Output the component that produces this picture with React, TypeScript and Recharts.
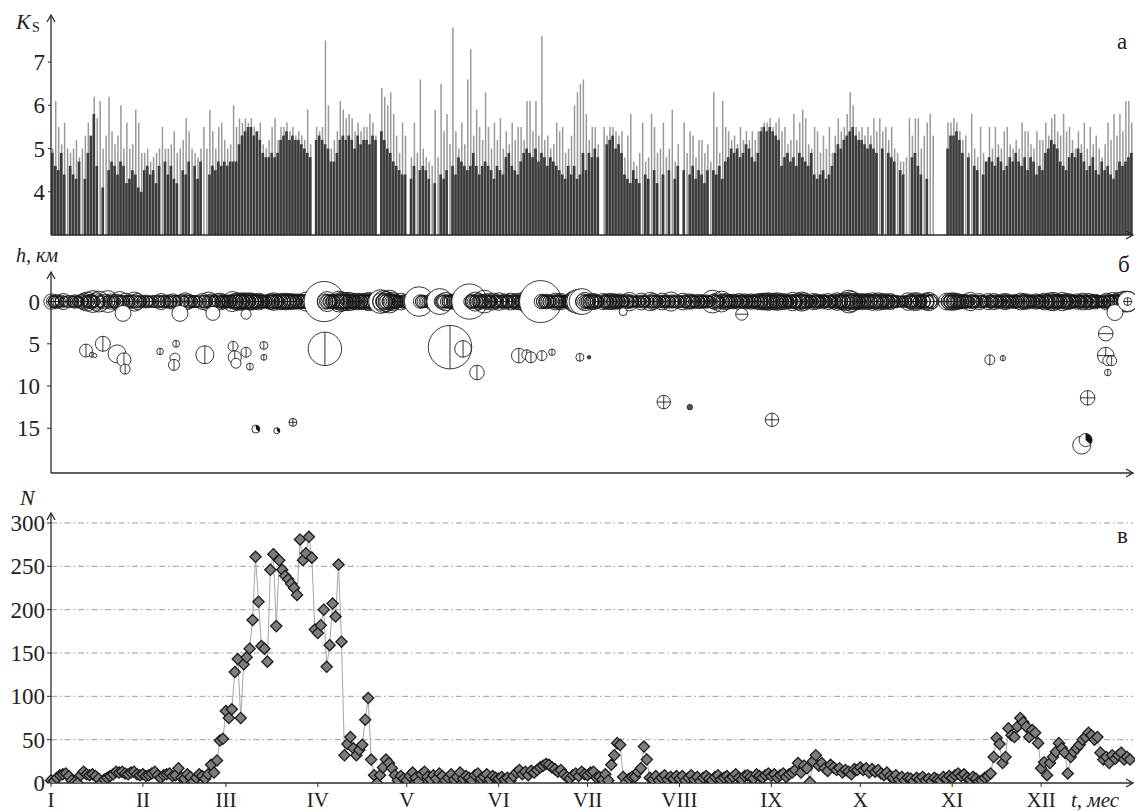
import React from 'react';
import { ComposedChart, Bar, XAxis, YAxis, Scatter, Line, ReferenceLine } from 'recharts';

const FONT = '"Liberation Serif", "Times New Roman", Times, serif';
const AXIS = '#2a2a2a';

const monthStarts = [0, 31, 59, 90, 120, 151, 181, 212, 243, 273, 304, 334];
const monthLabels = ['I', 'II', 'III', 'IV', 'V', 'VI', 'VII', 'VIII', 'IX', 'X', 'XI', 'XII'];
const ksTicks = [4, 5, 6, 7];
const depthTicks = [0, 5, 10, 15];
const countTicks = [0, 50, 100, 150, 200, 250, 300];
const countGrid = [50, 100, 150, 200, 250, 300];

// Panel а: daily K_s (dark body) — 0 = no events
const ksBase = [
  4.9, 4.6, 4.5, 4.9, 4.4, 0, 4.6, 4.4, 4.3, 4.7, 0, 4.3, 4.9, 5.3, 5.8, 4.6, 0, 4.1, 0, 4.5, 4.7, 4.6, 4.4, 4.7, 4.6, 4.2, 4.3, 4.5, 4.4, 4.1, 4.0,
  4.5, 4.6, 4.4, 4.5, 4.2, 4.6, 0, 4.7, 4.4, 4.6, 4.3, 4.2, 0, 4.5, 4.4, 4.7, 0, 4.6, 4.3, 4.7, 0, 0, 4.4, 4.6, 4.5, 4.7, 4.6, 4.7,
  4.6, 4.7, 4.7, 4.7, 5.1, 5.3, 5.4, 5.5, 5.5, 5.3, 5.4, 5.2, 4.9, 4.8, 4.8, 4.9, 4.8, 4.9, 5.2, 5.3, 5.4, 5.2, 5.3, 5.2, 5.2, 5.1, 5.0, 4.9, 4.8, 0, 5.2,
  5.3, 5.2, 5.1, 5.0, 4.7, 4.7, 4.9, 5.2, 5.3, 5.2, 5.3, 5.2, 5.0, 5.3, 5.1, 5.2, 5.2, 5.1, 5.3, 5.2, 0, 5.4, 5.2, 5.0, 4.9, 4.7, 4.6, 4.5, 4.4, 4.4,
  0, 4.3, 4.6, 0, 4.5, 4.6, 4.5, 4.3, 0, 4.2, 0, 4.4, 4.3, 4.5, 0, 4.6, 4.4, 4.8, 4.7, 4.6, 4.5, 4.6, 4.9, 4.6, 4.4, 4.6, 4.7, 4.6, 4.5, 4.3, 4.6,
  4.5, 4.4, 4.8, 4.9, 4.6, 4.5, 4.4, 4.7, 4.9, 5.0, 4.9, 4.8, 5.0, 4.7, 4.9, 4.8, 4.6, 4.8, 4.7, 4.6, 4.5, 4.4, 4.3, 4.6, 4.4, 4.6, 4.3, 4.4, 4.9, 4.5,
  4.9, 4.8, 5.0, 4.8, 0, 0, 5.1, 5.2, 5.3, 5.0, 5.1, 4.9, 4.4, 4.3, 4.2, 4.5, 4.3, 4.2, 0, 4.4, 4.3, 0, 4.5, 4.2, 0, 4.4, 0, 4.5, 0, 4.3, 4.6,
  0, 4.5, 0, 4.4, 4.6, 4.3, 4.5, 4.4, 4.2, 4.5, 0, 4.5, 4.4, 4.6, 4.3, 4.7, 4.8, 5.0, 4.9, 5.0, 4.8, 4.9, 5.1, 5.0, 4.8, 4.7, 4.9, 5.4, 5.5, 5.4, 5.5,
  5.4, 5.3, 5.2, 4.6, 4.8, 4.9, 4.7, 4.8, 4.6, 4.9, 4.8, 4.7, 4.6, 4.9, 4.4, 4.3, 4.4, 4.5, 4.3, 4.4, 4.6, 4.9, 5.1, 5.0, 5.2, 5.3, 5.4, 5.5, 5.3, 5.2,
  5.2, 5.1, 5.0, 5.1, 5.0, 4.9, 0, 5.0, 0, 4.9, 4.8, 4.7, 0, 4.5, 4.4, 0, 0, 4.8, 4.9, 4.6, 4.4, 0, 4.3, 0, 0, 0, 0, 0, 0, 5.0, 5.3,
  5.3, 5.4, 5.2, 4.9, 0, 4.8, 0, 4.6, 4.5, 0, 4.4, 4.7, 4.8, 4.7, 4.6, 4.8, 4.7, 4.5, 4.6, 4.8, 4.7, 4.9, 4.7, 4.6, 4.8, 4.5, 4.8, 4.7, 4.4, 4.6,
  4.5, 4.9, 5.0, 5.2, 5.1, 5.0, 4.7, 4.6, 4.5, 4.8, 4.9, 4.8, 5.0, 4.9, 4.7, 4.5, 4.6, 4.8, 4.5, 4.4, 4.7, 4.5, 4.6, 4.4, 4.3, 4.5, 4.7, 4.6, 4.7, 4.8, 4.9,
];

// Panel а: daily maximum K_s (light spikes)
const ksPeak = [
  5.0, 6.1, 5.5, 5.1, 5.6, 5.0, 4.9, 5.0, 5.2, 4.8, 5.0, 5.3, 5.6, 5.2, 6.2, 5.7, 6.1, 5.0, 5.3, 6.2, 5.4, 5.1, 5.3, 6.0, 5.0, 5.6, 5.0, 5.1, 5.9, 5.6, 4.9,
  4.9, 5.0, 4.7, 4.8, 4.9, 5.0, 5.5, 5.0, 5.0, 5.1, 5.4, 4.9, 5.0, 5.2, 5.7, 5.4, 5.0, 4.9, 4.8, 5.0, 5.5, 5.0, 5.9, 5.4, 5.0, 5.5, 5.6, 5.2,
  5.0, 5.1, 6.0, 5.5, 5.7, 5.6, 5.7, 5.6, 5.7, 5.5, 5.3, 5.6, 5.1, 5.0, 5.2, 5.5, 5.7, 5.2, 5.5, 5.5, 5.6, 5.4, 5.5, 5.3, 5.4, 5.3, 5.2, 5.9, 5.1, 0, 5.5,
  5.4, 5.5, 7.5, 6.0, 5.0, 5.2, 5.4, 6.1, 5.9, 5.7, 5.8, 5.7, 5.4, 5.6, 5.4, 5.5, 5.5, 5.8, 5.6, 5.3, 0, 6.4, 6.2, 6.0, 6.3, 5.8, 5.3, 4.9, 5.6, 5.3,
  0, 4.8, 5.6, 4.9, 6.6, 5.0, 4.8, 4.7, 4.6, 5.9, 4.8, 6.5, 5.4, 5.8, 5.1, 7.8, 5.4, 5.0, 5.6, 5.1, 6.6, 7.3, 5.3, 5.9, 5.5, 5.2, 6.3, 5.5, 5.0, 5.6, 5.2,
  5.7, 5.0, 5.4, 5.1, 5.6, 5.2, 5.5, 5.5, 5.2, 6.1, 6.1, 5.4, 6.1, 5.3, 7.6, 5.2, 5.3, 5.0, 5.1, 5.6, 5.4, 5.5, 4.9, 5.0, 5.3, 6.0, 6.3, 6.5, 6.6, 5.8,
  5.2, 5.5, 5.5, 5.1, 0, 5.5, 5.3, 5.5, 5.5, 5.4, 5.3, 5.4, 4.8, 5.3, 5.8, 4.7, 4.6, 4.9, 5.6, 4.7, 4.8, 5.8, 5.5, 4.9, 5.0, 5.6, 4.8, 5.0, 5.9, 4.7, 5.1,
  0, 5.6, 4.9, 5.4, 5.3, 4.8, 5.2, 5.2, 4.9, 5.1, 4.7, 6.3, 5.5, 4.9, 6.1, 5.5, 5.4, 5.2, 5.3, 5.1, 5.5, 5.2, 5.4, 5.2, 5.4, 5.2, 5.4, 5.5, 5.6, 5.6, 5.7,
  5.5, 5.6, 5.7, 5.4, 5.5, 5.1, 5.2, 5.8, 5.2, 5.6, 5.9, 5.7, 5.1, 5.0, 5.5, 5.4, 4.9, 5.3, 5.0, 5.5, 4.9, 5.3, 5.7, 5.4, 5.5, 5.8, 6.3, 6.0, 5.5, 5.4,
  5.5, 5.3, 5.5, 5.3, 5.7, 5.4, 5.7, 5.4, 5.5, 5.2, 5.5, 5.0, 4.9, 4.7, 4.7, 4.8, 5.7, 5.3, 5.7, 5.7, 5.0, 5.3, 5.6, 5.8, 5.3, 0, 0, 0, 0, 5.6, 5.6,
  5.7, 5.6, 5.4, 5.2, 5.3, 4.9, 5.8, 5.0, 4.8, 5.5, 4.9, 4.7, 5.5, 5.0, 5.5, 5.1, 5.0, 5.4, 5.5, 5.1, 5.0, 5.2, 5.0, 5.6, 5.4, 5.4, 5.1, 5.0, 5.4, 5.2,
  5.2, 5.6, 5.3, 5.7, 5.8, 5.4, 5.3, 5.8, 5.4, 5.5, 5.2, 5.0, 5.4, 5.1, 5.6, 5.0, 5.5, 5.1, 5.3, 5.0, 4.8, 5.1, 5.6, 5.2, 5.8, 5.3, 5.8, 5.4, 6.1, 6.1, 5.6,
];

// Panel б: shallow (h ≈ 0) events, K_s — first event of each day (0 = none)
const bandKs = [
  5.3, 4.6, 5.0, 4.4, 5.4, 0, 4.8, 4.6, 5.0, 4.5, 5.1, 5.5, 5.8, 5.0, 6.1, 5.6, 6.0, 4.8, 5.2, 6.1, 5.3, 4.9, 5.2, 5.9, 4.8, 5.5, 4.9, 5.0, 5.8, 5.4, 4.7,
  4.8, 4.9, 4.6, 4.7, 4.8, 4.9, 5.4, 4.9, 4.9, 5.0, 5.3, 4.8, 4.9, 5.1, 5.6, 5.3, 4.9, 4.8, 4.7, 4.9, 5.4, 4.9, 5.8, 5.3, 4.9, 5.4, 5.5, 5.1,
  4.9, 5.0, 5.9, 5.4, 5.6, 5.5, 5.6, 5.5, 5.6, 5.4, 5.2, 5.5, 5.0, 4.9, 5.1, 5.4, 5.6, 5.1, 5.4, 5.4, 5.5, 5.3, 5.4, 5.2, 5.3, 5.2, 5.1, 5.8, 5.0, 0, 5.4,
  5.3, 5.4, 7.5, 5.9, 4.9, 5.1, 5.3, 6.0, 5.8, 5.6, 5.7, 5.6, 5.3, 5.5, 5.3, 5.4, 5.4, 5.7, 5.5, 5.2, 0, 6.3, 6.1, 5.9, 6.2, 5.7, 5.2, 4.8, 5.5, 5.0,
  0, 4.7, 5.5, 4.8, 6.8, 4.9, 4.7, 4.6, 4.5, 5.8, 4.7, 6.5, 5.3, 5.7, 5.0, 5.2, 5.3, 4.9, 5.5, 5.0, 5.3, 7.2, 5.2, 5.8, 5.4, 5.1, 6.2, 5.4, 4.9, 5.5, 5.1,
  5.6, 4.9, 5.3, 5.0, 5.5, 5.1, 5.4, 5.4, 5.1, 6.0, 6.0, 5.3, 6.0, 5.2, 7.6, 5.1, 5.2, 4.9, 5.0, 5.5, 5.3, 5.4, 4.8, 4.9, 5.2, 5.9, 6.2, 6.4, 6.5, 5.7,
  5.1, 5.4, 5.4, 5.0, 0, 5.4, 5.2, 5.4, 5.4, 5.3, 5.2, 5.3, 4.7, 5.2, 5.7, 4.6, 4.5, 4.8, 5.5, 4.6, 4.7, 5.7, 5.4, 4.8, 4.9, 5.5, 4.7, 4.9, 5.8, 4.6, 5.0,
  0, 5.5, 4.8, 5.3, 5.2, 4.7, 5.1, 5.1, 4.8, 5.0, 4.6, 6.2, 5.4, 4.8, 6.0, 5.4, 5.3, 5.1, 5.2, 5.0, 5.4, 5.1, 5.3, 5.1, 5.3, 5.1, 5.3, 5.4, 5.5, 5.5, 5.6,
  5.4, 5.5, 5.6, 5.3, 5.4, 5.0, 5.1, 5.7, 5.1, 5.5, 5.8, 5.6, 5.0, 4.9, 5.4, 5.3, 4.8, 5.2, 4.9, 5.4, 4.8, 5.2, 5.6, 5.3, 5.4, 5.7, 6.2, 5.9, 5.4, 5.3,
  5.4, 5.2, 5.4, 5.2, 5.6, 5.3, 5.6, 5.3, 5.4, 5.1, 5.4, 4.9, 4.8, 4.6, 4.6, 4.7, 5.6, 5.2, 5.6, 5.6, 4.9, 5.2, 5.5, 5.7, 5.2, 0, 0, 0, 0, 5.5, 5.5,
  5.6, 5.5, 5.3, 5.1, 5.2, 4.8, 5.7, 4.9, 4.7, 5.4, 4.8, 4.6, 5.4, 4.9, 5.4, 5.0, 4.9, 5.3, 5.4, 5.0, 4.9, 5.1, 4.9, 5.5, 5.3, 5.3, 5.0, 4.9, 5.3, 5.1,
  5.1, 5.5, 5.2, 5.6, 5.7, 5.3, 5.2, 5.7, 5.3, 5.4, 5.1, 4.9, 5.3, 5.0, 5.5, 4.9, 5.4, 5.0, 5.2, 4.9, 4.7, 5.0, 5.5, 5.1, 5.7, 5.2, 5.7, 5.3, 6.0, 6.0, 5.5,
];

// second event of each day
const bandKs2 = [
  4.8, 5.0, 4.5, 4.9, 4.3, 4.6, 0, 4.5, 4.7, 4.4, 4.6, 5.0, 4.8, 5.2, 4.7, 5.0, 4.6, 0, 4.4, 4.8, 4.6, 4.5, 4.7, 4.9, 4.5, 4.8, 4.6, 4.7, 5.0, 4.6, 4.4,
  4.5, 4.6, 4.4, 4.5, 0, 4.6, 4.7, 4.5, 4.6, 4.4, 4.8, 4.5, 0, 4.6, 4.9, 4.7, 4.5, 4.6, 4.4, 0, 4.8, 4.5, 5.0, 4.8, 4.6, 4.9, 4.8, 4.7,
  4.7, 4.8, 5.1, 5.0, 5.2, 5.1, 5.3, 5.0, 5.2, 5.0, 4.9, 5.1, 4.8, 4.7, 4.9, 5.0, 5.2, 4.8, 5.0, 5.1, 5.2, 5.0, 5.1, 4.9, 5.0, 4.9, 4.8, 5.2, 4.8, 4.9, 5.1,
  5.0, 5.1, 5.3, 5.2, 4.7, 4.8, 5.0, 5.4, 5.2, 5.1, 5.2, 5.1, 4.9, 5.1, 5.0, 5.1, 5.0, 5.2, 5.1, 4.9, 5.0, 5.6, 5.5, 5.3, 5.4, 5.1, 4.9, 4.6, 4.9, 4.7,
  4.5, 4.6, 4.9, 4.6, 5.0, 4.7, 4.5, 4.4, 0, 4.9, 4.5, 5.0, 4.8, 4.9, 4.7, 4.8, 4.9, 4.6, 4.9, 4.7, 4.9, 5.0, 4.8, 5.0, 4.9, 4.7, 5.1, 4.9, 4.6, 4.9, 4.7,
  4.9, 4.6, 4.8, 4.7, 4.9, 4.7, 4.9, 4.9, 4.7, 5.1, 5.2, 4.9, 5.1, 4.8, 5.2, 4.8, 4.9, 4.6, 4.7, 4.9, 4.8, 4.9, 4.5, 4.6, 4.8, 5.0, 5.2, 5.3, 5.3, 5.0,
  4.8, 4.9, 5.0, 4.7, 0, 4.9, 4.8, 5.0, 4.9, 4.9, 4.8, 4.9, 4.4, 4.8, 5.0, 4.4, 4.3, 4.5, 4.9, 4.4, 4.5, 5.0, 4.9, 4.5, 4.6, 4.9, 4.4, 4.6, 5.0, 4.4, 4.7,
  4.6, 4.9, 4.5, 4.8, 4.8, 4.5, 4.7, 4.7, 4.5, 4.7, 4.4, 5.2, 4.9, 4.5, 5.1, 4.9, 4.8, 4.7, 4.8, 4.7, 4.9, 4.7, 4.8, 4.7, 4.8, 4.7, 4.9, 5.0, 5.1, 5.0, 5.1,
  5.0, 5.0, 5.1, 4.9, 5.0, 4.7, 4.8, 5.1, 4.7, 5.0, 5.2, 5.0, 4.7, 4.6, 4.9, 4.9, 4.5, 4.8, 4.6, 4.9, 4.5, 4.8, 5.0, 4.9, 5.0, 5.1, 5.4, 5.3, 5.0, 4.9,
  5.0, 4.9, 5.0, 4.9, 5.1, 4.9, 5.1, 4.9, 5.0, 4.8, 5.0, 4.6, 4.5, 4.4, 4.4, 4.5, 5.0, 4.8, 5.0, 5.1, 4.6, 4.8, 5.0, 5.1, 0, 0, 0, 0, 0, 5.0, 5.0,
  5.1, 5.0, 4.9, 4.8, 4.8, 4.6, 5.1, 4.6, 4.5, 4.9, 4.5, 4.4, 4.9, 4.6, 4.9, 4.7, 4.6, 4.9, 4.9, 4.7, 4.6, 4.8, 4.6, 5.0, 4.9, 4.9, 4.7, 4.6, 4.9, 4.8,
  4.8, 5.0, 4.8, 5.1, 5.1, 4.9, 4.8, 5.1, 4.9, 5.0, 4.8, 4.6, 4.9, 4.7, 5.0, 4.6, 4.9, 4.7, 4.8, 4.6, 4.5, 4.7, 5.0, 4.8, 5.1, 4.8, 5.1, 4.9, 5.3, 5.3, 5.0,
];

// third event of each day (active periods)
const bandKs3 = [
  4.5, 4.3, 0, 0, 4.4, 0, 0, 0, 4.3, 0, 0, 4.6, 4.5, 4.8, 4.4, 0, 0, 0, 0, 4.5, 4.3, 0, 0, 4.5, 0, 4.4, 0, 0, 4.6, 0, 0,
  0, 4.3, 0, 0, 0, 4.4, 0, 0, 4.3, 0, 0, 0, 0, 4.4, 0, 0, 4.3, 0, 0, 0, 0, 0, 4.6, 4.4, 0, 4.5, 4.6, 4.5,
  4.6, 4.7, 4.8, 4.8, 4.9, 4.8, 5.0, 4.8, 4.9, 4.8, 4.7, 4.8, 4.6, 4.5, 4.7, 4.8, 4.9, 4.6, 4.8, 4.8, 4.9, 4.8, 4.8, 4.7, 4.8, 4.7, 4.6, 4.9, 4.6, 4.7, 4.8,
  4.8, 4.9, 5.0, 4.9, 4.5, 4.6, 4.8, 5.0, 4.9, 4.8, 4.9, 4.8, 4.7, 4.8, 4.8, 4.8, 4.8, 4.9, 4.8, 4.7, 4.8, 5.1, 5.0, 4.9, 5.0, 4.8, 4.6, 4.4, 4.6, 4.5,
  0, 0, 4.5, 0, 4.6, 0, 0, 0, 0, 4.5, 0, 4.6, 0, 4.5, 0, 4.5, 4.6, 0, 4.6, 0, 4.5, 4.7, 4.5, 4.6, 4.5, 0, 4.7, 4.5, 0, 4.6, 0,
  4.6, 0, 4.5, 0, 4.6, 0, 4.6, 4.6, 0, 4.8, 4.8, 4.6, 4.8, 4.5, 4.8, 4.6, 4.6, 0, 4.5, 4.6, 4.5, 4.6, 0, 4.4, 4.5, 4.7, 4.8, 4.9, 4.9, 4.7,
  4.6, 4.7, 4.7, 4.5, 0, 4.6, 4.6, 4.7, 4.7, 4.6, 4.6, 4.6, 0, 4.5, 4.7, 0, 0, 4.3, 4.6, 0, 0, 4.7, 4.6, 0, 4.4, 4.6, 0, 4.4, 4.7, 0, 4.5,
  0, 4.6, 0, 4.5, 4.5, 0, 4.5, 4.4, 0, 4.5, 0, 4.8, 4.6, 0, 4.7, 4.6, 4.5, 4.5, 4.6, 4.5, 4.6, 4.5, 4.6, 4.5, 4.6, 4.5, 4.6, 4.7, 4.8, 4.7, 4.8,
  4.7, 4.8, 4.8, 4.6, 4.7, 4.5, 4.6, 4.8, 4.5, 4.7, 4.9, 4.8, 4.5, 4.4, 4.7, 4.6, 4.3, 4.6, 4.4, 4.6, 4.4, 4.6, 4.8, 4.6, 4.7, 4.8, 5.0, 4.9, 4.7, 4.6,
  4.7, 4.6, 4.7, 4.6, 4.8, 4.6, 4.8, 4.6, 4.7, 4.5, 4.7, 4.4, 0, 4.3, 0, 4.4, 4.7, 4.5, 4.7, 4.7, 4.4, 4.6, 4.7, 4.8, 0, 0, 0, 0, 0, 4.7, 4.7,
  4.8, 4.7, 4.6, 4.6, 4.6, 4.4, 4.8, 4.4, 0, 4.6, 4.4, 0, 4.6, 4.4, 4.6, 4.5, 4.4, 4.6, 4.6, 4.5, 4.4, 4.6, 4.4, 4.7, 4.6, 4.6, 4.5, 4.4, 4.6, 4.5,
  4.6, 4.7, 4.6, 4.8, 4.8, 4.6, 4.6, 4.8, 4.6, 4.7, 4.6, 4.4, 4.6, 4.5, 4.7, 4.4, 4.6, 4.5, 4.6, 4.4, 4.3, 4.5, 4.7, 4.6, 4.8, 4.6, 4.8, 4.6, 5.0, 5.0, 4.7,
];

// Panel б: events away from the surface line (day of year, depth km, K_s, focal mark)
const deepDay = [11.8, 13.8, 14.8, 17.5, 22.3, 24.6, 25.0, 36.8, 42.2, 41.8, 41.5, 51.9, 61.4, 62.0, 62.4, 65.8, 67.1, 71.8, 71.8, 69.1, 76.2, 81.6, 92.4, 134.6, 139.0, 143.7, 157.8, 160.5, 161.9, 165.6, 169.0, 178.4, 181.5, 206.7, 215.5, 243.2, 316.7, 321.1, 355.8, 355.8, 356.5, 357.8, 356.5, 349.7, 347.7, 349.0, 24.3, 43.5, 54.6, 65.8, 193.0, 233.0, 358.9, 363.2, 363.2];
const deepH = [5.8, 6.3, 6.4, 5.0, 6.2, 6.9, 8.0, 5.9, 5.0, 6.7, 7.5, 6.3, 5.3, 6.6, 7.3, 6.0, 7.7, 5.2, 6.6, 15.1, 15.3, 14.3, 5.6, 5.4, 5.6, 8.4, 6.4, 6.3, 6.6, 6.4, 6.0, 6.6, 6.6, 11.9, 12.5, 14.0, 6.9, 6.7, 3.8, 6.4, 7.0, 7.0, 8.4, 11.4, 17.0, 16.4, 1.4, 1.4, 1.4, 1.5, 1.2, 1.5, 1.3, 0, 0];
const deepKs = [4.9, 2.7, 2.2, 5.25, 5.66, 5.09, 4.32, 3.37, 3.5, 4.32, 4.54, 5.66, 4.32, 4.92, 4.32, 4.32, 3.5, 3.8, 3.15, 3.8, 3.15, 3.8, 7.08, 7.68, 5.48, 5.18, 5.18, 4.32, 4.54, 4.32, 3.37, 3.8, 1.85, 4.99, 2.9, 4.99, 4.32, 2.9, 5.18, 5.48, 4.32, 4.32, 3.37, 5.18, 5.66, 4.92, 5.39, 5.39, 5.09, 4.32, 3.8, 4.74, 5.39, 5.9, 3.8];
const deepMark = ['v', 'v', 'o', 'v', 'o', 'v', 'v', 'v', 'v', 'o', 'v', 'v', 'v', 'v', 'o', 'v', 'v', 'v', 'v', 'q', 'q', '+', 'v', 'v', 'v', 'v', 'v', 'v', 'v', 'v', 'v', 'v', 'f', '+', 'f', '+', 'v', 'v', 'h', '+', 'q', 'v', 'v', '+', 'o', 'q', 'o', 'o', 'o', 'o', 'o', 'h', 'o', 'o', '+'];

// Panel в: daily number of events N
const nDaily = [
  3, 2, 6, 9, 10, 11, 8, 3, 1, 0, 9, 13, 10, 9, 10, 8, 5, 0, 4, 6, 8, 10, 13, 12, 13, 11, 10, 12, 13, 10, 9,
  10, 8, 9, 11, 13, 9, 6, 9, 10, 11, 8, 9, 17, 6, 5, 10, 7, 2, 6, 10, 8, 5, 10, 21, 12, 26, 49, 51,
  83, 75, 85, 128, 143, 75, 137, 145, 155, 188, 261, 209, 158, 155, 140, 246, 264, 181, 257, 246, 239, 235, 230, 225, 217, 281, 257, 265, 284, 260, 177,
  173, 182, 200, 134, 159, 207, 192, 252, 163, 32, 45, 53, 40, 32, 38, 44, 73, 98, 27, 9, 0, 9, 18, 27, 23, 17, 9, 3, 8, 5,
  3, 8, 12, 6, 2, 10, 13, 7, 4, 9, 5, 11, 8, 3, 6, 10, 4, 7, 12, 5, 8, 6, 3, 9, 11, 5, 7, 10, 4, 8, 6,
  5, 7, 4, 6, 3, 8, 12, 15, 10, 13, 9, 14, 12, 15, 18, 20, 22, 21, 18, 16, 13, 15, 10, 7, 5, 9, 11, 8, 13, 10,
  9, 12, 13, 6, 7, 4, 10, 3, 21, 32, 46, 44, 7, 1, 5, 7, 7, 13, 17, 42, 27, 6, 4, 8, 3, 6, 9, 4, 7, 5, 8,
  5, 8, 3, 6, 9, 4, 7, 2, 6, 8, 5, 3, 7, 9, 4, 6, 8, 5, 7, 10, 6, 4, 8, 9, 7, 5, 10, 8, 6, 9, 11,
  8, 10, 6, 9, 11, 7, 10, 12, 15, 23, 12, 20, 17, 1, 25, 32, 20, 23, 17, 14, 21, 18, 15, 17, 12, 15, 13, 10, 16, 15,
  18, 15, 17, 12, 16, 13, 15, 11, 9, 12, 8, 6, 9, 4, 7, 3, 6, 5, 2, 6, 4, 7, 3, 5, 2, 6, 4, 3, 7, 5, 8,
  6, 9, 11, 8, 10, 6, 4, 7, 5, 2, 3, 6, 8, 11, 30, 52, 45, 23, 30, 63, 55, 53, 65, 75, 70, 65, 53, 61, 58, 46,
  17, 24, 9, 23, 30, 36, 46, 40, 35, 11, 30, 36, 40, 44, 50, 53, 58, 55, 50, 53, 35, 27, 30, 23, 32, 28, 32, 35, 27, 30, 27,
];

const ksRows = ksBase.map((b, i) => ({ t: i + 0.5, base: b > 0 ? b : null, peak: ksPeak[i] > 0 ? ksPeak[i] : null }));
const bandRows = [
  ...bandKs.map((k, i) => ({ t: i + 0.15, h: 0, ks: k, mark: 'b' })),
  ...bandKs2.map((k, i) => ({ t: i + 0.5, h: 0, ks: k, mark: 'b' })),
  ...bandKs3.map((k, i) => ({ t: i + 0.82, h: 0, ks: k, mark: 'b' })),
]
  .filter((r) => r.ks > 0)
  .sort((a, b) => a.t - b.t);
const deepRows = deepDay.map((d, i) => ({ t: d, h: deepH[i], ks: deepKs[i], mark: deepMark[i] }));
const nRows = nDaily.map((n, i) => ({ t: i, n }));

const radiusOf = (ks: number) => 21 * Math.pow(10, 0.19 * (ks - 7.6));

function QuakeShape(props: any) {
  const { cx, cy, payload } = props;
  if (cx == null || cy == null) return <g />;
  const r = radiusOf(payload.ks);
  const m = payload.mark;
  const sw = 0.85;
  const parts: any[] = [];
  let fill = '#fff';
  if (m === 'f') fill = '#555';
  if (m === 'b') fill = payload.ks >= 6.3 ? '#fff' : 'none';
  parts.push(<circle key="c" cx={cx} cy={cy} r={r} fill={fill} stroke="#151515" strokeWidth={sw} />);
  if (m === 'v' || m === '+') parts.push(<line key="v" x1={cx} y1={cy - r} x2={cx} y2={cy + r} stroke="#111" strokeWidth={sw} />);
  if (m === 'h' || m === '+') parts.push(<line key="h" x1={cx - r} y1={cy} x2={cx + r} y2={cy} stroke="#111" strokeWidth={sw} />);
  if (m === 'q') {
    const a = (40 * Math.PI) / 180;
    parts.push(<path key="q" d={`M${cx},${cy} L${cx},${cy - r} A${r},${r} 0 0 1 ${cx + r * Math.cos(a)},${cy + r * Math.sin(a)} Z`} fill="#111" />);
  }
  return <g>{parts}</g>;
}

function Diamond(props: any) {
  const { cx, cy, index } = props;
  if (cx == null || cy == null) return <g key={`d${index}`} />;
  const s = 5.6;
  return (
    <path
      key={`d${index}`}
      d={`M${cx},${cy - s} L${cx + s},${cy} L${cx},${cy + s} L${cx - s},${cy} Z`}
      fill="#7d7d7d"
      stroke="#1c1c1c"
      strokeWidth={1.3}
    />
  );
}

const axisLine = { stroke: AXIS, strokeWidth: 1.3 };
const tickLine = { stroke: AXIS, strokeWidth: 1 };
const tickFont = { fontSize: 23, fill: '#222', fontFamily: FONT };

export default function App() {
  const up = (x: number, y: number) => `${x - 4},${y + 7} ${x},${y} ${x + 4},${y + 7}`;
  const right = (x: number, y: number) => `${x - 7},${y - 4} ${x},${y} ${x - 7},${y + 4}`;
  return (
    <div style={{ position: 'absolute', left: 0, top: 0, width: 1135, height: 811, background: '#fff', overflow: 'hidden', fontFamily: FONT }}>
      {/* Panel а */}
      <div style={{ position: 'absolute', left: 0, top: 0 }}>
        <ComposedChart width={1135} height={250} data={ksRows} margin={{ top: 15, right: 2, bottom: 5, left: 0 }} barCategoryGap={0} barGap={0}>
          <XAxis xAxisId="b" dataKey="t" type="number" domain={[0, 365]} ticks={monthStarts} interval={0} tick={false} tickSize={4} height={10} axisLine={axisLine} tickLine={tickLine} />
          <XAxis xAxisId="p" dataKey="t" type="number" domain={[0, 365]} hide height={0} />
          <YAxis type="number" domain={[3, 8.09]} ticks={ksTicks} allowDataOverflow width={51} tickSize={3} tickMargin={3} axisLine={axisLine} tickLine={tickLine} tick={tickFont} />
          <Bar xAxisId="p" dataKey="peak" fill="#9a9a9a" barSize={1.5} isAnimationActive={false} />
          <Bar xAxisId="b" dataKey="base" fill="#3c3c3c" barSize={3} isAnimationActive={false} />
        </ComposedChart>
      </div>

      {/* Panel б */}
      <div style={{ position: 'absolute', left: 0, top: 250 }}>
        <ComposedChart width={1135} height={240} margin={{ top: 22, right: 2, bottom: 7, left: 0 }}>
          <XAxis dataKey="t" type="number" domain={[0, 365]} ticks={monthStarts} interval={0} tick={false} tickSize={4} height={10} axisLine={axisLine} tickLine={tickLine} />
          <YAxis dataKey="h" type="number" reversed domain={[-3.5, 20.3]} ticks={depthTicks} allowDataOverflow width={51} tickSize={4} tickMargin={7} axisLine={axisLine} tickLine={tickLine} tick={tickFont} />
          <Scatter data={bandRows} dataKey="h" shape={QuakeShape} isAnimationActive={false} />
          <Scatter data={deepRows} dataKey="h" shape={QuakeShape} isAnimationActive={false} />
          <ReferenceLine y={0} stroke="#222" strokeWidth={0.9} ifOverflow="visible" />
        </ComposedChart>
      </div>

      {/* Panel в */}
      <div style={{ position: 'absolute', left: 0, top: 490 }}>
        <ComposedChart width={1135} height={321} data={nRows} margin={{ top: 23, right: 2, bottom: 0, left: 0 }}>
          {countGrid.map((g) => (
            <ReferenceLine key={g} y={g} stroke="#9c9c9c" strokeWidth={1} strokeDasharray="6 3 1.5 3" />
          ))}
          <XAxis dataKey="t" type="number" domain={[0, 365]} ticks={monthStarts} interval={0} tickFormatter={(v: number) => monthLabels[monthStarts.indexOf(v)]} tickSize={4} tickMargin={5} height={28} axisLine={axisLine} tickLine={tickLine} tick={{ fontSize: 21, fill: '#222', fontFamily: FONT }} />
          <YAxis type="number" domain={[0, 311.5]} ticks={countTicks} allowDataOverflow width={51} tickSize={4} tickMargin={2} axisLine={axisLine} tickLine={tickLine} tick={tickFont} />
          <Line dataKey="n" stroke="#a5a5a5" strokeWidth={1} dot={Diamond} activeDot={false} isAnimationActive={false} />
        </ComposedChart>
      </div>

      {/* Axis arrows and titles */}
      <svg width={1135} height={811} style={{ position: 'absolute', left: 0, top: 0, pointerEvents: 'none' }}>
        <g fill="none" stroke={AXIS} strokeWidth={1.3}>
          <polyline points={up(51, 15)} />
          <polyline points={up(51, 272)} />
          <polyline points={up(51, 513)} />
          <polyline points={right(1133, 235)} />
          <polyline points={right(1133, 473)} />
          <polyline points={right(1133, 783)} />
        </g>
        <g fontFamily={FONT} fill="#222">
          <text x={16} y={29} fontSize={22} fontStyle="italic">K</text>
          <text x={32} y={32} fontSize={14}>S</text>
          <text x={16} y={262} fontSize={20} fontStyle="italic">h, км</text>
          <text x={20} y={505} fontSize={22} fontStyle="italic">N</text>
          <text x={1117} y={49} fontSize={23}>а</text>
          <text x={1118} y={272} fontSize={23}>б</text>
          <text x={1117} y={543} fontSize={23}>в</text>
          <text x={1071} y={807} fontSize={21} fontStyle="italic">t, мес</text>
        </g>
      </svg>
    </div>
  );
}
